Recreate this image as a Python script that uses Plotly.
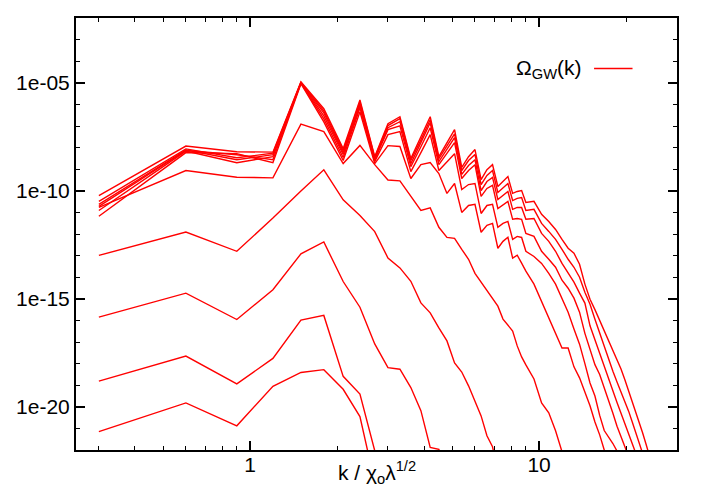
import plotly.graph_objects as go

# k grid (units of chi_0 lambda^1/2)
K_LOW = [0.3, 0.6, 0.9, 1.2, 1.5, 1.8, 2.1, 2.4, 2.7, 3.0,
         3.3, 3.6, 3.9, 4.2, 4.5, 4.8, 5.1, 5.4, 5.7, 6.0,
         6.3, 6.6, 6.9, 7.2, 7.5, 7.8, 8.1, 8.4, 8.7, 9.0]
K_HIGH = [9.6, 10.2, 10.8, 11.4, 12.0, 12.6, 13.2, 13.8, 14.4, 15.0,
          15.6, 16.2, 16.8, 17.4, 18.0, 18.6, 19.2, 19.8, 20.4, 21.0,
          21.6, 22.2, 22.8, 23.4, 24.0, 24.6]
K_ALL = K_LOW + K_HIGH

# log10(Omega_GW), one list per time snapshot
log_omega_a = [-21.15, -19.82, -20.88, -19.05, -18.41, -18.28, -19.19, -20.45, -23.5]
log_omega_b = [-18.81, -17.65, -18.94, -17.76, -15.99, -15.77, -18.59, -19.41, -22.03, -24.0]
log_omega_c = [-15.85, -14.74, -15.96, -14.58, -12.92, -12.37, -14.20, -15.39, -17.09, -18.19,
               -18.26, -19.11, -20.18, -21.88, -21.97, -23.0]
log_omega_d = [-12.99, -11.91, -12.80, -11.26, -10.01, -9.03, -10.42, -11.14, -11.89, -13.11,
               -13.57, -14.19, -15.19, -15.65, -16.35, -16.95, -17.97, -18.39, -19.03, -19.72,
               -20.42, -21.34, -21.85, -23.0]
log_omega_e = [-10.77, -9.06, -9.37, -9.40, -6.91, -7.26, -8.74, -7.90, -8.79, -9.50,
               -9.54, -10.26, -10.91, -10.79, -11.69, -12.16, -12.20, -12.71, -13.17, -13.82,
               -14.23, -14.65, -15.02, -15.34, -15.94, -16.21, -16.49, -17.18, -17.69, -18.06,
               -18.71, -19.82, -20.28, -21.11, -22.03, -23.0]
log_omega_f = [-11.18, -8.23, -8.28, -8.70, -5.04, -6.81, -8.60, -6.34, -8.74, -7.91,
               -7.95, -9.43, -8.79, -8.69, -9.20, -10.12, -9.66, -11.00, -10.68, -10.63,
               -11.92, -11.60, -11.51, -12.66, -12.34, -12.15, -13.12, -12.98, -13.35, -13.72,
               -14.32, -15.11, -15.89, -16.63, -17.28, -17.28, -18.15, -18.66, -19.30, -19.95,
               -20.70, -21.30, -22.00, -22.80, -24.0]
log_omega_g = [-10.91, -8.16, -8.70, -8.42, -5.02, -6.67, -8.46, -6.16, -8.65, -7.40,
               -7.26, -9.11, -8.23, -7.40, -9.06, -8.65, -8.28, -9.94, -9.71, -9.66,
               -11.05, -10.68, -10.63, -11.69, -11.51, -11.42, -12.25, -12.11, -12.16, -12.80,
               -13.04, -13.36, -13.82, -14.32, -15.02, -15.62, -16.40, -17.10, -18.00, -18.90,
               -19.50, -20.40, -21.10, -21.40, -21.70, -22.05, -22.70, -24.0]
log_omega_h = [-10.72, -8.13, -8.33, -8.56, -5.00, -6.53, -8.32, -6.07, -8.56, -7.17,
               -6.99, -8.88, -7.96, -7.08, -8.79, -8.28, -7.77, -9.43, -9.06, -8.79,
               -10.26, -9.89, -9.75, -10.82, -10.63, -10.49, -11.32, -11.28, -11.32, -11.97,
               -12.11, -12.80, -13.17, -13.54, -14.14, -14.51, -14.97, -15.62, -16.60, -17.35,
               -18.05, -18.50, -19.10, -19.70, -20.30, -20.90, -21.35, -21.85, -22.30, -23.5]
log_omega_i = [-10.63, -8.11, -8.56, -8.33, -5.00, -6.39, -8.23, -5.97, -8.51, -7.08,
               -6.80, -8.74, -7.77, -6.85, -8.65, -8.05, -7.54, -9.24, -8.83, -8.56,
               -9.99, -9.57, -9.38, -10.40, -10.22, -10.03, -10.86, -10.77, -10.77, -11.32,
               -11.28, -11.97, -12.34, -12.80, -13.36, -13.82, -14.23, -14.74, -15.20, -16.25,
               -16.90, -17.60, -18.20, -18.75, -19.30, -19.80, -20.30, -20.80, -21.30, -21.75,
               -22.15, -23.0]
log_omega_j = [-10.49, -8.06, -8.47, -8.26, -4.98, -6.30, -8.14, -5.88, -8.46, -6.98,
               -6.66, -8.60, -7.64, -6.71, -8.51, -7.91, -7.36, -9.06, -8.60, -8.32,
               -9.71, -9.29, -9.06, -10.08, -9.85, -9.66, -10.45, -10.35, -10.31, -10.91,
               -10.86, -11.51, -11.88, -12.25, -12.71, -13.17, -13.54, -14.00, -14.70, -15.25,
               -15.95, -16.60, -17.20, -17.75, -18.35, -18.85, -19.30, -19.72, -20.20, -20.70,
               -21.20, -21.70, -22.15, -23.0]
log_omega_k = [-10.22, -7.93, -8.19, -8.21, -4.96, -6.20, -8.05, -5.79, -8.42, -6.89,
               -6.57, -8.51, -7.50, -6.57, -8.42, -7.77, -7.17, -8.92, -8.42, -8.09,
               -9.48, -9.02, -8.79, -9.80, -9.57, -9.34, -10.12, -10.03, -9.99, -10.54,
               -10.49, -11.09, -11.42, -11.79, -12.25, -12.66, -12.89, -13.40, -14.32, -15.02,
               -15.50, -16.00, -16.45, -16.90, -17.35, -17.80, -18.25, -18.75, -19.25, -19.72,
               -20.20, -20.70, -21.20, -21.70, -22.20, -23.0]

SNAPSHOTS = [log_omega_a, log_omega_b, log_omega_c, log_omega_d, log_omega_e, log_omega_f,
             log_omega_g, log_omega_h, log_omega_i, log_omega_j, log_omega_k]

Y_TICKS = [1e-20, 1e-15, 1e-10, 1e-05]
Y_TICK_TEXT = ["1e-20", "1e-15", "1e-10", "1e-05"]
X_TICKS = [1, 10]
X_TICK_TEXT = ["1", "10"]

FONT = "Liberation Sans"
RED = "#ff0000"

fig = go.Figure()
for vals in SNAPSHOTS:
    fig.add_trace(go.Scatter(
        x=K_ALL[:len(vals)],
        y=[10 ** v for v in vals],
        mode="lines",
        line=dict(color=RED, width=1.4),
        showlegend=False,
        hoverinfo="skip",
    ))

x_minor = [0.3, 0.4, 0.5, 0.6, 0.7, 0.8, 0.9, 2, 3, 4, 5, 6, 7, 8, 9, 20, 30]
y_minor = [10.0 ** e for e in range(-22, -1) if e % 5 != 0]

fig.update_xaxes(
    type="log", range=[-0.602, 1.477],
    tickvals=X_TICKS, ticktext=X_TICK_TEXT,
    ticks="inside", ticklen=9, tickwidth=1.5, tickcolor="black",
    minor=dict(tickvals=x_minor, ticks="inside", ticklen=4, tickwidth=1, tickcolor="black"),
    showline=True, linewidth=2, linecolor="black", mirror="allticks",
    showgrid=False, zeroline=False, ticklabelstandoff=-5,
    tickfont=dict(family=FONT, size=21, color="black"),
)
fig.update_yaxes(
    type="log", range=[-22, -2],
    tickvals=Y_TICKS, ticktext=Y_TICK_TEXT,
    ticks="inside", ticklen=9, tickwidth=1.5, tickcolor="black",
    minor=dict(tickvals=y_minor, ticks="inside", ticklen=4, tickwidth=1, tickcolor="black"),
    showline=True, linewidth=2, linecolor="black", mirror="allticks",
    showgrid=False, zeroline=False,
    tickfont=dict(family=FONT, size=21, color="black"),
)

# x axis title placed like the original
fig.add_annotation(
    text="k / χ<sub>o</sub>λ<sup>1/2</sup>",
    xref="paper", yref="paper", x=0.5, y=-0.052,
    xanchor="center", yanchor="middle", showarrow=False,
    font=dict(family=FONT, size=21, color="black"),
)

# gnuplot style key: label then line sample
fig.add_annotation(
    text="Ω<sub>GW</sub>(k)",
    xref="paper", yref="paper", x=0.845, y=0.882,
    xanchor="right", yanchor="middle", showarrow=False,
    font=dict(family=FONT, size=21, color="black"),
)
fig.add_shape(
    type="line", xref="paper", yref="paper",
    x0=0.862, x1=0.926, y0=0.883, y1=0.883,
    line=dict(color=RED, width=1.4),
)

# page body adds an 8px offset, so the figure is sized to fit inside the window
fig.update_layout(
    width=693, height=483,
    margin=dict(l=64, r=24, t=8, b=41),
    plot_bgcolor="white", paper_bgcolor="white",
    showlegend=False,
)

fig.write_html("out.html")
